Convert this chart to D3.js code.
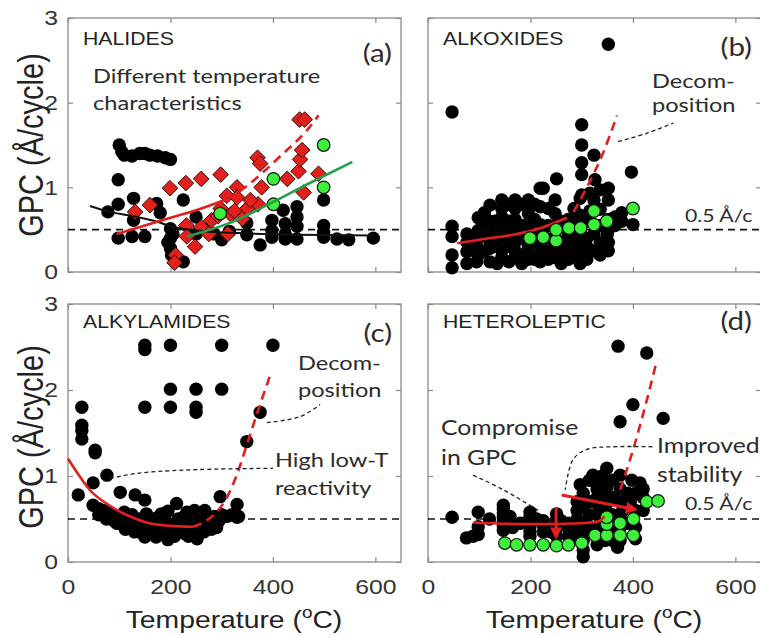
<!DOCTYPE html>
<html>
<head>
<meta charset="utf-8">
<script src="https://cdn.jsdelivr.net/npm/d3@7"></script>
<style>
  body { margin: 0; background: #fff; }
  svg { display: block; font-family: "Liberation Sans", Arial, sans-serif; }
  .note { font-family: Lato, "Open Sans", sans-serif; fill: #2b2b2b; }
</style>
</head>
<body>
<div id="container"></div>
<script>
//DATA  (temperature in oC, GPC in A/cycle)
const xTicks = [0, 200, 400, 600];
const yTicks = [0, 1, 2, 3];
const refGPC = 0.5;

// (a) halides
const halidesBlack = [
  [100,1.50],[105,1.42],[110,1.38],[125,1.37],[140,1.40],[150,1.40],[160,1.38],[175,1.37],[190,1.35],[200,1.33],
  [98,1.09],[78,0.71],[98,0.80],[128,0.87],[128,0.61],[98,0.40],[125,0.42],[150,0.42],[173,0.81],[180,0.70],
  [200,0.51],[200,0.40],[200,0.28],[202,0.20],[205,0.45],[195,0.35],
  [225,0.85],[225,0.12],[250,0.65],[250,0.45],[270,0.50],[285,0.45],[300,0.38],[315,0.48],
  [349,0.58],[349,0.44],[375,0.32],[398,0.61],[398,0.49],[398,0.41],
  [420,0.73],[424,0.57],[424,0.45],[424,0.39],[447,0.77],[447,0.65],[447,0.54],[447,0.39],
  [499,0.85],[499,0.55],[499,0.47],[499,0.41],[525,0.39],[548,0.38],[596,0.40]
];
const halidesRed = [
  [131,0.71],[160,0.79],[199,0.99],[230,1.05],[260,1.10],[298,1.15],[310,0.90],[330,1.00],[330,0.88],[350,0.75],
  [370,1.35],[375,1.28],[378,1.00],[371,0.80],[428,1.10],[450,1.19],[453,1.33],[457,1.44],[452,1.80],[462,1.80],
  [460,0.94],[489,1.16],
  [210,0.20],[208,0.11],[231,0.55],[232,0.42],[248,0.30],[260,0.53],[275,0.45],[280,0.61],[293,0.66],[298,0.75],
  [312,0.45],[318,0.68],[325,0.72],[340,0.63],[356,0.85]
];
const halidesGreen = [[297,0.69],[401,1.10],[401,0.80],[499,1.50],[499,1.00]];
const halidesBlackFit = [[43,0.78],[82,0.71],[117,0.67],[176,0.59],[200,0.54],[250,0.49],[332,0.46],[450,0.44],[596,0.43]];
const halidesRedFit = [[95,0.45],[150,0.55],[200,0.64],[250,0.73],[310,0.86]];
const halidesRedTrend = [[310,0.86],[350,1.02],[381,1.18],[420,1.40],[447,1.55],[470,1.70],[489,1.85]];
const halidesGreenFit = [[232,0.42],[316,0.58],[395,0.81],[475,1.06],[555,1.30]];

// (b) alkoxides
const alkoxidesBlack = [
  [47,1.89],[352,2.69],
  [300,1.74],[300,1.50],[324,1.38],[300,1.29],[300,1.15],[397,1.18],[251,1.10],[225,0.99],[326,1.09],[352,0.99],[300,0.91],[352,0.85],
  [47,0.54],[47,0.42],[47,0.20],[47,0.05],
  [76,0.24],[76,0.10],[76,0.35],[76,0.45],[98,0.64],[98,0.49],[95,0.30],[95,0.12],[85,0.35],[98,0.20],[98,0.40],
  [110,0.25],[110,0.55],[121,0.79],[121,0.45],[121,0.28],[121,0.12],[110,0.70],[130,0.60],[121,0.60],[121,0.35],
  [135,0.50],[135,0.30],[135,0.10],[144,0.85],[144,0.65],[144,0.40],[144,0.17],[144,0.75],[144,0.55],[144,0.25],
  [158,0.80],[158,0.60],[158,0.12],[158,0.45],[160,0.30],
  [170,0.85],[170,0.75],[170,0.47],[170,0.17],[170,0.62],[170,0.35],[170,0.25],[185,0.55],
  [183,0.80],[183,0.40],[183,0.20],[183,0.10],
  [196,0.85],[196,0.69],[196,0.30],[196,0.15],[196,0.55],[196,0.45],[196,0.22],
  [208,0.80],[208,0.35],[208,0.15],[208,0.62],
  [219,0.99],[219,0.77],[219,0.56],[219,0.22],[219,0.12],[219,0.45],[219,0.30],[230,0.40],
  [235,0.55],[235,0.25],[235,0.15],[235,0.75],
  [248,0.85],[248,0.69],[248,0.30],[248,0.17],[248,0.55],[248,0.42],[248,0.25],[260,0.20],
  [260,0.35],[260,0.60],[260,0.10],
  [274,0.56],[274,0.30],[274,0.45],[274,0.20],[274,0.62],[274,0.15],[285,0.40],
  [285,0.25],[285,0.55],[285,0.75],
  [297,0.87],[297,0.67],[297,0.30],[297,0.20],[297,0.45],[297,0.55],[297,0.10],[310,0.40],
  [310,0.30],[310,0.60],[310,0.15],
  [316,0.93],[316,0.72],[324,0.25],[324,0.45],[324,0.85],
  [336,0.97],[336,0.74],[336,0.35],[336,0.20],[336,0.55],[336,0.30],[350,0.45],
  [352,0.62],[352,0.50],[352,0.35],[352,0.25],[365,0.55],[365,0.65],
  [378,0.70],[378,0.60],[400,0.56]
];
const alkoxidesGreen = [[199,0.40],[225,0.41],[250,0.37],[250,0.50],[275,0.52],[298,0.52],[324,0.56],[324,0.72],[349,0.60],[400,0.75]];
const alkoxidesRedFit = [[57,0.34],[110,0.39],[166,0.44],[220,0.52],[271,0.64]];
const alkoxidesRedTrend = [[284,0.71],[310,1.00],[340,1.38],[369,1.85]];

// (c) alkylamides
const alkylamidesBlack = [
  [150,2.52],[150,2.47],[200,2.52],[300,2.52],[400,2.52],
  [200,2.01],[250,2.01],[300,2.01],
  [150,1.80],[200,1.80],[250,1.80],[250,1.74],
  [27,1.80],[27,1.59],[27,1.53],[27,1.43],[53,1.30],[53,1.27],
  [76,1.01],[49,0.92],[20,0.78],[102,0.81],[131,0.78],[150,0.72],[297,0.76],[330,0.67],[330,0.52],[349,1.40],[375,1.74],
  [49,0.66],[60,0.62],[69,0.60],[80,0.57],[88,0.55],[95,0.45],[100,0.52],[115,0.49],[120,0.42],[134,0.41],
  [140,0.50],[150,0.29],[153,0.56],[160,0.38],[165,0.45],[172,0.51],[172,0.29],[182,0.56],[188,0.35],[195,0.26],
  [195,0.45],[195,0.59],[205,0.38],[212,0.68],[215,0.50],[225,0.52],[225,0.38],[235,0.30],[240,0.45],[247,0.60],
  [250,0.37],[252,0.27],[260,0.50],[267,0.60],[273,0.45],[280,0.38],[286,0.53],[295,0.48],[310,0.53],[320,0.55],
  [333,0.53],[110,0.58],[125,0.55],[140,0.35],[178,0.42],[208,0.30],[230,0.45],[260,0.42],
  [60,0.55],[75,0.50],[90,0.48],[105,0.44],[112,0.38],[128,0.47],[130,0.35],[145,0.43],[158,0.48],[168,0.36],
  [185,0.47],[200,0.33],[218,0.43],[228,0.33],[245,0.38],[255,0.48],[265,0.35],[290,0.40],[300,0.55],[232,0.58]
];
const alkylamidesRedFit = [[0,1.20],[20,1.02],[42,0.84],[70,0.70],[94,0.61],[125,0.52],[159,0.45],[200,0.42],[244,0.41]];
const alkylamidesRedTrend = [[244,0.41],[270,0.48],[290,0.58],[310,0.75],[330,1.02],[350,1.38],[372,1.78],[394,2.16]];

// (d) heteroleptic
const heteroBlack = [
  [371,2.51],[427,2.43],[400,1.83],[375,1.63],[459,1.67],
  [47,0.52],[75,0.28],[88,0.30],[98,0.58],[98,0.41],[98,0.32],[120,0.50],
  [147,0.66],[147,0.57],[147,0.47],[147,0.37],[147,0.42],[147,0.52],[147,0.62],[160,0.53],[165,0.40],[180,0.45],
  [199,0.58],[199,0.46],[199,0.36],[199,0.41],[199,0.52],[199,0.30],[212,0.50],
  [225,0.43],[225,0.35],[225,0.48],[240,0.35],[251,0.56],[251,0.39],[251,0.45],[251,0.30],[251,0.50],[260,0.48],
  [274,0.39],[274,0.45],[274,0.30],[291,0.50],[291,0.30],[291,0.40],[291,0.60],[291,0.70],
  [303,0.63],[303,0.14],[303,0.06],[297,0.90],[303,0.80],[303,0.35],[303,0.25],[303,0.45],[315,0.55],
  [315,0.70],[315,0.95],[315,0.40],
  [322,1.01],[330,0.85],[330,0.68],[330,0.40],[330,0.32],[330,0.55],[330,0.75],[330,0.95],[330,0.20],
  [340,0.45],[340,0.60],[340,0.80],[340,1.00],[345,0.25],[349,1.09],[349,0.87],[349,0.68],
  [360,0.95],[360,0.75],[360,0.55],[360,0.40],
  [375,1.01],[375,0.85],[375,0.70],[375,0.55],[375,0.40],[375,0.25],[360,0.25],[370,0.17],[380,0.60],
  [390,0.80],[390,0.65],[390,0.45],[395,0.70],[398,0.95],
  [405,0.80],[405,0.40],[405,0.60],[414,0.92],[420,0.75],[420,0.60],[420,0.85],[405,0.27]
];
const heteroGreen = [
  [150,0.22],[173,0.20],[199,0.20],[225,0.20],[251,0.19],[274,0.20],[300,0.22],
  [326,0.31],[349,0.31],[375,0.31],[401,0.31],[349,0.44],[375,0.45],[349,0.52],[401,0.50],[427,0.70],[449,0.71]
];
const heteroRedFit = [[88,0.46],[200,0.44],[300,0.45],[332,0.47],[345,0.53]];
const heteroRedTrend = [[375,0.84],[400,1.30],[427,1.88],[447,2.35]];
const heteroArrowDown = [[250,0.64],[250,0.29]];
const heteroArrowSide = [[261,0.78],[405,0.61]];

// leader lines for the notes
const leaderB = [[371,1.54],[428,1.64],[479,1.76]];
const leaderCDecomp = [[388,1.62],[453,1.69],[492,1.83]];
const leaderCLowT = [[82,0.97],[134,1.03],[232,1.07],[400,1.09]];
const leaderDCompromise = [[88,1.01],[147,0.84],[215,0.60]];
const leaderDStability = [[438,1.34],[361,1.34],[310,1.31],[283,1.19],[268,0.84]];

//LAYOUT
const width = 760, height = 637;
const panelW = 333;
const stretch = 1.18;   // the source figure is a bit wider than tall

const svg = d3.select("#container")
  .append("svg")
  .attr("width", width)
  .attr("height", height);

const defs = svg.append("defs");
defs.append("marker")
  .attr("id", "redHead")
  .attr("viewBox", "0 0 10 10")
  .attr("refX", 8).attr("refY", 5)
  .attr("markerWidth", 4).attr("markerHeight", 4)
  .attr("orient", "auto")
  .append("path")
  .attr("d", "M0,0 L10,5 L0,10 z")
  .attr("fill", "#e41e20");

const panels = [
  {left: 68, top: 18, h: 254, title: "HALIDES", tag: "(a)", tagY: 62, xLabels: false, yLabels: true},
  {left: 428, top: 18, h: 254, title: "ALKOXIDES", tag: "(b)", tagY: 56, xLabels: false, yLabels: false},
  {left: 68, top: 304, h: 258, title: "ALKYLAMIDES", tag: "(c)", tagY: 342, xLabels: true, yLabels: true},
  {left: 428, top: 304, h: 258, title: "HETEROLEPTIC", tag: "(d)", tagY: 330, xLabels: true, yLabels: false}
];

const lineGen = (x, y) => d3.line()
  .x(d => x(d[0]))
  .y(d => y(d[1]))
  .curve(d3.curveMonotoneX);

const leaderGen = (x, y) => d3.line()
  .x(d => x(d[0]))
  .y(d => y(d[1]))
  .curve(d3.curveCatmullRom);

// text placed at (x,y) and widened like the source
function wideText(parent, x, y, size) {
  return parent.append("text")
    .attr("transform", `translate(${x},${y}) scale(${stretch},1)`)
    .style("font-size", size + "px");
}

panels.forEach(p => {
  const x = d3.scaleLinear().domain([0, 650]).range([0, panelW]);
  const y = d3.scaleLinear().domain([0, 3]).range([p.h, 0]);
  p.x = x; p.y = y;

  const g = svg.append("g").attr("transform", `translate(${p.left},${p.top})`);
  p.g = g;

  // axes, ticks point inward on every side
  const axes = [
    {ax: d3.axisBottom(x).tickValues(xTicks), t: `translate(0,${p.h})`, labels: p.xLabels, pad: 17},
    {ax: d3.axisTop(x).tickValues(xTicks), t: `translate(0,0)`, labels: false, pad: 5},
    {ax: d3.axisLeft(y).tickValues(yTicks), t: `translate(0,0)`, labels: p.yLabels, pad: 8.5},
    {ax: d3.axisRight(y).tickValues(yTicks), t: `translate(${panelW},0)`, labels: false, pad: 5}
  ];
  axes.forEach(a => {
    a.ax.tickSizeInner(-5).tickSizeOuter(0).tickPadding(a.pad)
      .tickFormat(a.labels ? d3.format("d") : () => "");
    const ag = g.append("g").attr("transform", a.t).call(a.ax);
    ag.select(".domain").remove();
    ag.selectAll(".tick line").attr("stroke", "#8a8a8a").attr("stroke-width", 1.2);
    ag.selectAll(".tick text")
      .attr("fill", "#333")
      .attr("transform", `scale(${stretch},1)`)
      .style("font-size", "21px")
      .style("font-family", "'Liberation Sans', Arial, sans-serif");
  });

  g.append("rect")
    .attr("width", panelW).attr("height", p.h)
    .attr("fill", "none")
    .attr("stroke", "#8a8a8a")
    .attr("stroke-width", 1.3);

  // 0.5 A/cycle reference
  g.append("line")
    .attr("x1", 0).attr("x2", panelW)
    .attr("y1", y(refGPC)).attr("y2", y(refGPC))
    .attr("stroke", "#111").attr("stroke-width", 1.6)
    .attr("stroke-dasharray", "7,5");

  wideText(g, 15, p.top < 100 ? 27 : 24, 18)
    .attr("fill", "#222")
    .text(p.title);

  wideText(g, panelW - 9, p.tagY - p.top, 25)
    .attr("class", "note")
    .attr("text-anchor", "end")
    .text(p.tag);
});

const [pa, pb, pc, pd] = panels;

function blackDots(p, data) {
  p.g.append("g").selectAll("circle")
    .data(data).join("circle")
    .attr("cx", d => p.x(d[0])).attr("cy", d => p.y(d[1]))
    .attr("r", 6.7).attr("fill", "#000");
}
function greenDots(p, data) {
  p.g.append("g").selectAll("circle")
    .data(data).join("circle")
    .attr("cx", d => p.x(d[0])).attr("cy", d => p.y(d[1]))
    .attr("r", 6.3).attr("fill", "#3cf03a")
    .attr("stroke", "#111").attr("stroke-width", 1.2);
}
function redDiamonds(p, data) {
  p.g.append("g").selectAll("path")
    .data(data).join("path")
    .attr("transform", d => `translate(${p.x(d[0])},${p.y(d[1])})`)
    .attr("d", "M0,-7.8 L7.8,0 L0,7.8 L-7.8,0 Z")
    .attr("fill", "#e2201c")
    .attr("stroke", "#3a0a08").attr("stroke-width", 1);
}
function fitLine(p, data, color, dashed, w) {
  p.g.append("path")
    .datum(data)
    .attr("d", lineGen(p.x, p.y))
    .attr("fill", "none")
    .attr("stroke", color)
    .attr("stroke-width", w || 2.6)
    .attr("stroke-dasharray", dashed ? "9,6" : null);
}
function leader(p, data) {
  p.g.append("path")
    .datum(data)
    .attr("d", leaderGen(p.x, p.y))
    .attr("fill", "none")
    .attr("stroke", "#222")
    .attr("stroke-width", 1.3)
    .attr("stroke-dasharray", "4,3");
}
function arrow(p, data) {
  p.g.append("path")
    .datum(data)
    .attr("d", d3.line().x(d => p.x(d[0])).y(d => p.y(d[1])))
    .attr("fill", "none")
    .attr("stroke", "#e41e20")
    .attr("stroke-width", 3)
    .attr("marker-end", "url(#redHead)");
}
function note(p, lines, x0, y0, size, gap) {
  const t = wideText(p.g, x0 - p.left, y0 - p.top, size).attr("class", "note");
  lines.forEach((s, i) => {
    t.append("tspan").attr("x", 0).attr("y", i * gap).text(s);
  });
}

// (a)
blackDots(pa, halidesBlack);
redDiamonds(pa, halidesRed);
fitLine(pa, halidesBlackFit, "#111", false, 2);
fitLine(pa, halidesRedFit, "#e41e20", false);
fitLine(pa, halidesRedTrend, "#e41e20", true);
greenDots(pa, halidesGreen);
fitLine(pa, halidesGreenFit, "#22a04c", false);
note(pa, ["Different temperature", "characteristics"], 93, 83, 20, 27);

// (b)
blackDots(pb, alkoxidesBlack);
fitLine(pb, alkoxidesRedFit, "#e41e20", false);
fitLine(pb, alkoxidesRedTrend, "#e41e20", true);
greenDots(pb, alkoxidesGreen);
leader(pb, leaderB);
note(pb, ["Decom-", "position"], 652, 88, 20, 24);
note(pb, ["0.5 \u00C5/c"], 685, 222, 18, 0);

// (c)
blackDots(pc, alkylamidesBlack);
fitLine(pc, alkylamidesRedFit, "#e41e20", false);
fitLine(pc, alkylamidesRedTrend, "#e41e20", true);
leader(pc, leaderCDecomp);
leader(pc, leaderCLowT);
note(pc, ["Decom-", "position"], 298, 370, 20, 27);
note(pc, ["High low-T", "reactivity"], 275, 467, 20, 28);

// (d)
blackDots(pd, heteroBlack);
greenDots(pd, heteroGreen);
fitLine(pd, heteroRedFit, "#e41e20", false);
fitLine(pd, heteroRedTrend, "#e41e20", true);
arrow(pd, heteroArrowDown);
arrow(pd, heteroArrowSide);
leader(pd, leaderDCompromise);
leader(pd, leaderDStability);
note(pd, ["Compromise", "in GPC"], 441, 435, 21, 30);
note(pd, ["Improved", "stability"], 657, 453, 21, 29);
note(pd, ["0.5 \u00C5/c"], 685, 510, 18, 0);

// axis titles
[145, 437].forEach(cy => {
  svg.append("text")
    .attr("transform", `translate(43,${cy}) scale(${stretch},1) rotate(-90)`)
    .attr("text-anchor", "middle")
    .style("font-size", "29px")
    .attr("fill", "#222")
    .text("GPC (\u00C5/cycle)");
});
[234, 594].forEach(cx => {
  const t = wideText(svg, cx, 628, 24)
    .attr("text-anchor", "middle")
    .attr("fill", "#222");
  t.append("tspan").text("Temperature (");
  t.append("tspan").attr("dy", -10).style("font-size", "16px").text("o");
  t.append("tspan").attr("dy", 10).text("C)");
});
</script>
</body>
</html>
